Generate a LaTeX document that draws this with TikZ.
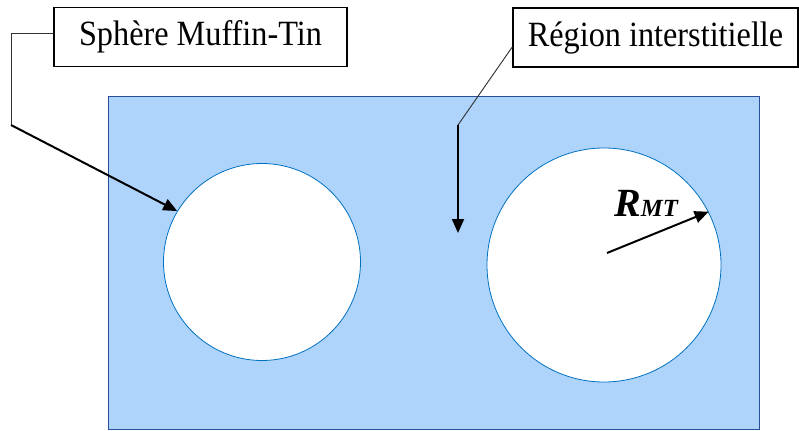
\documentclass[tikz,border=0pt]{standalone}
\usepackage{fontspec}
\setmainfont{Liberation Serif}
\usetikzlibrary{arrows.meta}
\definecolor{fillblue}{RGB}{174,212,252}
\definecolor{rectedge}{RGB}{40,80,150}
\definecolor{circedge}{RGB}{0,112,192}
\newcommand{\tallbox}[1]{\scalebox{1}[1.1]{#1}}
\tikzset{
  labelbox/.style={draw=black,line width=1.1pt,fill=white,inner sep=0pt,minimum height=44pt,
    font=\fontsize{24.2}{26}\selectfont},
  sphere/.style={circle,draw=circedge,line width=0.6pt,fill=white,inner sep=0pt},
  leader/.style={draw=black!80,line width=0.7pt},
  pointer/.style={draw=black,line width=1.5pt,-{Triangle[length=10.5pt,width=9pt]}},
}
\begin{document}
\begin{tikzpicture}[x=0.75pt,y=-0.75pt]
\useasboundingbox (0,0) rectangle (799,431);
% interstitial region
\draw[rectedge,line width=0.6pt,fill=fillblue] (108,96) rectangle (759,429);
% spheres
\node[sphere,minimum size=197*0.75pt] (c1) at (262,262) {};
\node[sphere,minimum size=234*0.75pt] (c2) at (604,265) {};
% labels
\node[labelbox,minimum width=293*0.75pt] (b1) at (200.5,37) {\tallbox{Sphère Muffin-Tin}};
\node[labelbox,minimum width=285*0.75pt] (b2) at (655.5,37.5) {\tallbox{Région interstitielle}};
% leaders
\coordinate (l1a) at (11,33);
\coordinate (l1b) at (11,125);
\coordinate (l2a) at (458,125);
\coordinate (r0) at (607,253);
\coordinate (d2) at (458,233);
\draw[leader] (b1.west |- l1a) -- (l1a) -- (l1b);
\draw[pointer] (l1b) -- (c1.149);
\draw[leader] (b2.west |- 0,47) -- (l2a);
\draw[pointer] (l2a) -- (d2);
\draw[pointer] (r0) -- (c2.27);
\node[anchor=base west,inner sep=0pt] (rmt) at (614,216)
  {\fontsize{30}{32}\selectfont\bfseries\itshape R\fontsize{18.5}{20}\selectfont MT};
\end{tikzpicture}
\end{document}
